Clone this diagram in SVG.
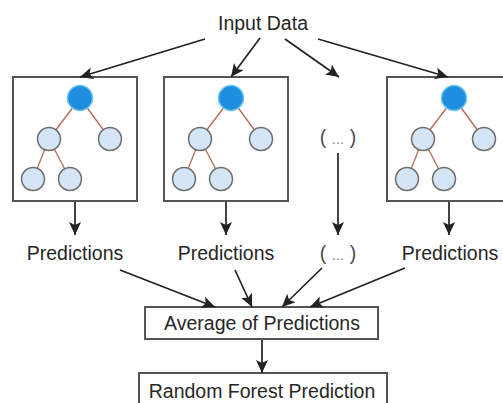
<svg xmlns="http://www.w3.org/2000/svg" width="503" height="403" viewBox="0 0 503 403">
  <defs>
    <marker id="arrow" markerUnits="userSpaceOnUse" markerWidth="14" markerHeight="13" refX="13" refY="6" orient="auto">
      <path d="M0,0 L13,6 L0,12 L3,6 z" fill="#222"/>
    </marker>
    <!-- one decision tree, placed at the box's top-left corner -->
    <g id="tree">
      <rect class="box" x="0" y="0" width="124" height="124"/>
      <line class="edge" x1="67" y1="21" x2="36" y2="62"/>
      <line class="edge" x1="67" y1="21" x2="97" y2="62"/>
      <line class="edge" x1="36" y1="62" x2="20" y2="102"/>
      <line class="edge" x1="36" y1="62" x2="57" y2="102"/>
      <circle class="root" cx="67" cy="21" r="12.5"/>
      <circle class="leaf" cx="36" cy="62" r="11.5"/>
      <circle class="leaf" cx="97" cy="62" r="11.5"/>
      <circle class="leaf" cx="20" cy="102" r="11.5"/>
      <circle class="leaf" cx="57" cy="102" r="11.5"/>
    </g>
  </defs>
  <style>
    text { font-family: "Liberation Sans", Arial, sans-serif; font-size: 19.5px; fill: #262626; text-anchor: middle; }
    .box { fill: #ffffff; stroke: #555555; stroke-width: 2; }
    .edge { stroke: #b06a55; stroke-width: 1.3; }
    .root { fill: #1d8ee0; stroke: #6cc6ee; stroke-width: 1.5; }
    .leaf { fill: #d3e5f7; stroke: #6e6e6e; stroke-width: 1.5; }
    .conn { stroke: #222222; stroke-width: 1.7; fill: none; marker-end: url(#arrow); }
    .dots { fill: #8a8a8a; font-size: 15px; }
    .paren { fill: #4a4a4a; }
  </style>
  <rect width="503" height="403" fill="#ffffff"/>

  <g id="input-data">
    <text x="263" y="30">Input Data</text>
  </g>

  <g id="tree-1"><use href="#tree" x="13" y="77"/></g>
  <g id="tree-2"><use href="#tree" x="164" y="77"/></g>
  <g id="more-trees">
    <text x="338" y="144"><tspan class="paren">(</tspan> <tspan class="dots">...</tspan> <tspan class="paren">)</tspan></text>
  </g>
  <g id="tree-n"><use href="#tree" x="387" y="77"/></g>

  <g id="pred-1"><text x="75" y="260">Predictions</text></g>
  <g id="pred-2"><text x="226" y="260">Predictions</text></g>
  <g id="pred-more">
    <text x="338" y="260"><tspan class="paren">(</tspan> <tspan class="dots">...</tspan> <tspan class="paren">)</tspan></text>
  </g>
  <g id="pred-n"><text x="450" y="260">Predictions</text></g>

  <g id="average">
    <rect class="box" x="145" y="307" width="233" height="32"/>
    <text x="262" y="330">Average of Predictions</text>
  </g>

  <g id="result">
    <rect class="box" x="139" y="373" width="248" height="40"/>
    <text x="262" y="398">Random Forest Prediction</text>
  </g>

  <g id="connectors">
    <line class="conn" x1="205" y1="39" x2="80" y2="77"/>
    <line class="conn" x1="260" y1="38" x2="231" y2="77"/>
    <line class="conn" x1="285" y1="39" x2="339" y2="77"/>
    <line class="conn" x1="318" y1="39" x2="448" y2="77"/>

    <line class="conn" x1="75" y1="202" x2="75" y2="235"/>
    <line class="conn" x1="226" y1="202" x2="226" y2="235"/>
    <line class="conn" x1="338" y1="153" x2="338" y2="235"/>
    <line class="conn" x1="449" y1="202" x2="449" y2="235"/>

    <line class="conn" x1="120" y1="270" x2="215" y2="307"/>
    <line class="conn" x1="235" y1="270" x2="252" y2="307"/>
    <line class="conn" x1="322" y1="268" x2="282" y2="307"/>
    <line class="conn" x1="405" y1="268" x2="310" y2="307"/>

    <line class="conn" x1="262" y1="340" x2="262" y2="373"/>
  </g>
</svg>
